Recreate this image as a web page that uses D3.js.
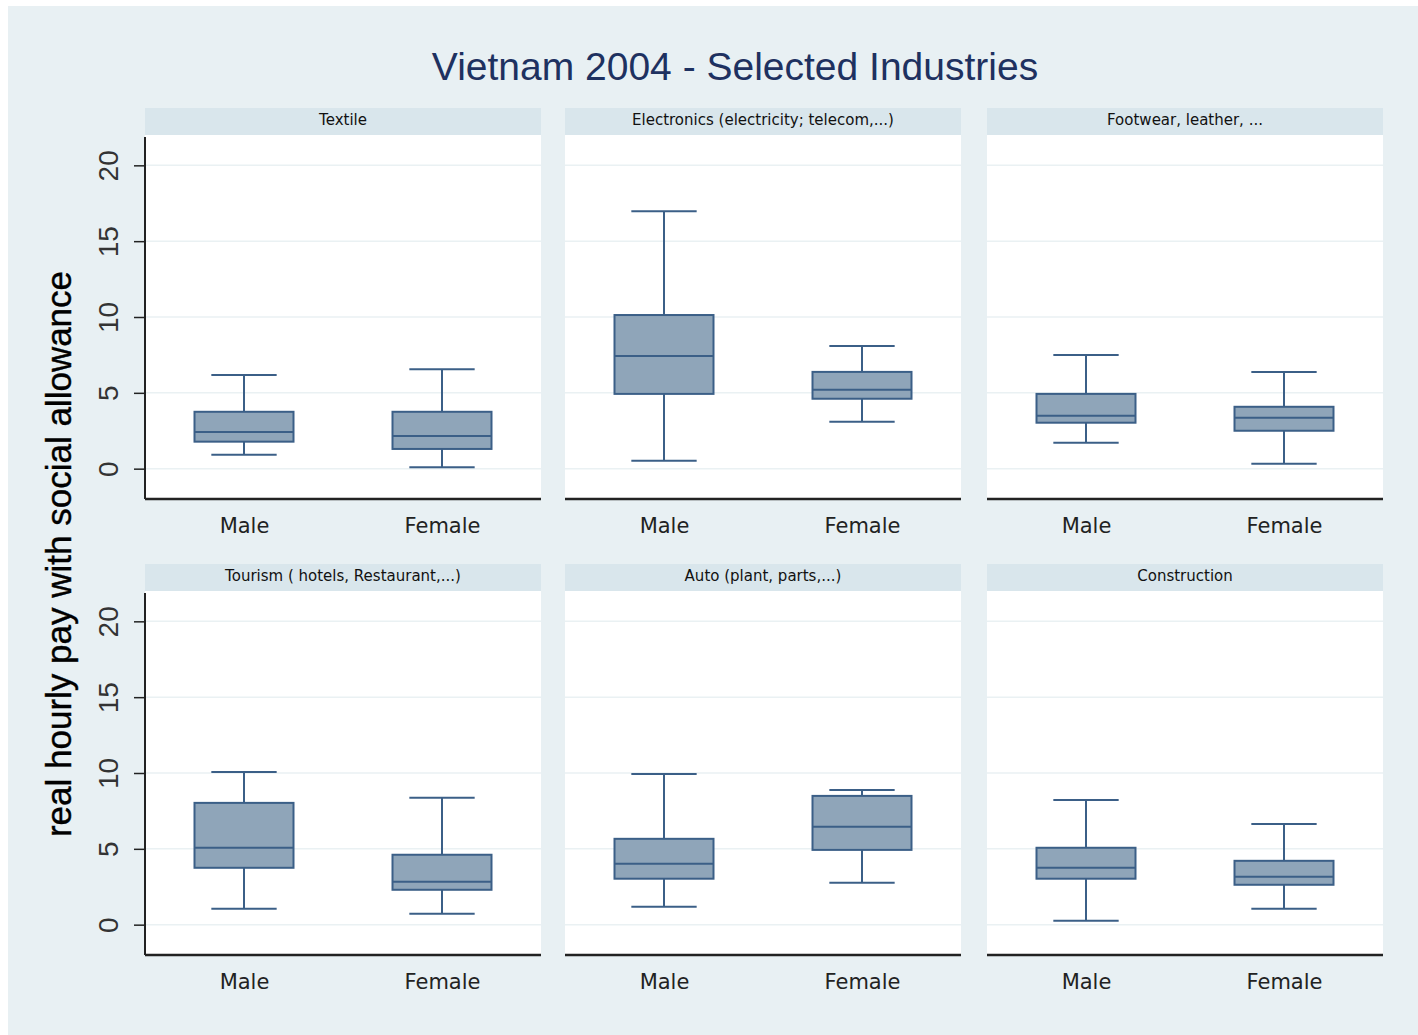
<!DOCTYPE html>
<html><head><meta charset="utf-8">
<script src="https://cdn.jsdelivr.net/npm/d3@7"></script>
<style>body{margin:0;background:#fff;}svg{display:block;}</style>
</head><body>
<svg id="c" width="1418" height="1035"></svg>
<script>
const title = "Vietnam 2004 - Selected Industries";
const yTitle = "real hourly pay with social allowance";
const industries = ["Textile","Electronics (electricity; telecom,...)","Footwear, leather, ...","Tourism ( hotels, Restaurant,...)","Auto (plant, parts,...)","Construction"];
const groups = ["Male","Female"];
const yTicks = [0,5,10,15,20];
// per industry: [Male, Female]
const lowerWhisker = [[0.92,0.09],[0.53,3.09],[1.71,0.33],[1.05,0.72],[1.18,2.76],[0.26,1.05]];
const q1Values     = [[1.78,1.30],[4.93,4.61],[3.03,2.50],[3.75,2.30],[3.03,4.93],[3.03,2.63]];
const medians      = [[2.41,2.15],[7.43,5.20],[3.49,3.36],[5.07,2.83],[4.01,6.45],[3.75,3.16]];
const q3Values     = [[3.75,3.75],[10.13,6.38],[4.93,4.08],[8.03,4.61],[5.66,8.49],[5.07,4.21]];
const upperWhisker = [[6.18,6.56],[16.97,8.09],[7.50,6.38],[10.07,8.36],[9.93,8.88],[8.22,6.64]];

const svg = d3.select("#c");
svg.append("rect").attr("x",8).attr("y",6).attr("width",1410).attr("height",1029).attr("fill","#e8f0f3");

svg.append("text").attr("x",735).attr("y",80).attr("text-anchor","middle")
  .attr("font-family","Liberation Sans, Arial, sans-serif").attr("font-size",39)
  .attr("fill","#1e3160").text(title);

svg.append("text").attr("transform","translate(71,554) rotate(-90)").attr("text-anchor","middle")
  .attr("font-family","Liberation Sans, Arial, sans-serif").attr("font-size",35)
  .attr("fill","#000").attr("stroke","#000").attr("stroke-width",0.4).text(yTitle);

const colX = [145,565,987];
const panelW = 396;
const rowTop = [108,564];
const headerH = 27;
const plotH = 364;

const fill = "#8fa5b9", stroke = "#3b5f87";

industries.forEach((name,i)=>{
  const col = i%3, row = Math.floor(i/3);
  const x0 = colX[col], yTop = rowTop[row];
  const pTop = yTop+headerH, pBot = pTop+plotH;
  const g = svg.append("g");
  g.append("rect").attr("x",x0).attr("y",yTop).attr("width",panelW).attr("height",headerH).attr("fill","#d9e6ec");
  g.append("text").attr("x",x0+panelW/2).attr("y",yTop+17).attr("text-anchor","middle")
    .attr("font-family","DejaVu Sans, sans-serif").attr("font-size",15).attr("fill","#111").text(name);
  g.append("rect").attr("x",x0).attr("y",pTop).attr("width",panelW).attr("height",plotH).attr("fill","#fff");
  const y = d3.scaleLinear().domain([-2,22]).range([pBot,pTop]);
  const xc = d3.scalePoint().domain(groups).range([x0,x0+panelW]).padding(0.5);
  g.selectAll("line.grid").data(yTicks).join("line")
    .attr("x1",x0).attr("x2",x0+panelW).attr("y1",d=>y(d)).attr("y2",d=>y(d))
    .attr("stroke","#eaf1f3").attr("stroke-width",1.5);
  const bw = panelW*0.25, cw = panelW*0.165;
  groups.forEach((gname,j)=>{
    const cx = xc(gname);
    const lw=lowerWhisker[i][j], q1=q1Values[i][j], md=medians[i][j], q3=q3Values[i][j], uw=upperWhisker[i][j];
    g.append("line").attr("x1",cx).attr("x2",cx).attr("y1",y(uw)).attr("y2",y(q3)).attr("stroke",stroke).attr("stroke-width",2);
    g.append("line").attr("x1",cx).attr("x2",cx).attr("y1",y(q1)).attr("y2",y(lw)).attr("stroke",stroke).attr("stroke-width",2);
    g.append("line").attr("x1",cx-cw/2).attr("x2",cx+cw/2).attr("y1",y(uw)).attr("y2",y(uw)).attr("stroke",stroke).attr("stroke-width",2);
    g.append("line").attr("x1",cx-cw/2).attr("x2",cx+cw/2).attr("y1",y(lw)).attr("y2",y(lw)).attr("stroke",stroke).attr("stroke-width",2);
    g.append("rect").attr("x",cx-bw/2).attr("y",y(q3)).attr("width",bw).attr("height",y(q1)-y(q3))
      .attr("fill",fill).attr("stroke",stroke).attr("stroke-width",2);
    g.append("line").attr("x1",cx-bw/2).attr("x2",cx+bw/2).attr("y1",y(md)).attr("y2",y(md)).attr("stroke",stroke).attr("stroke-width",2);
  });
  if (col === 0) {
    const ya = g.append("g").attr("transform",`translate(${x0},0)`)
      .call(d3.axisLeft(y).tickValues(yTicks).tickSize(11).tickSizeOuter(0).tickPadding(0).tickFormat(d3.format("d")));
    ya.select(".domain").attr("stroke","#222").attr("stroke-width",2).attr("d",`M0,${pTop+2}V${pBot}`);
    ya.selectAll(".tick line").attr("stroke","#222").attr("stroke-width",1.5);
    ya.selectAll(".tick text").attr("x",0).attr("y",0).attr("dy",null)
      .attr("text-anchor","middle").attr("font-family","Liberation Sans, Arial, sans-serif").attr("font-size",28)
      .attr("fill","#333")
      .attr("transform","translate(-37,0) rotate(-90)").attr("dominant-baseline","central");
  }
  const xa = g.append("g").attr("transform",`translate(0,${pBot})`)
    .call(d3.axisBottom(xc).tickSize(0).tickPadding(23));
  xa.select(".domain").attr("stroke","#222").attr("stroke-width",2.5).attr("d",`M${x0},0H${x0+panelW}`);
  xa.selectAll(".tick text").attr("font-family","DejaVu Sans, sans-serif").attr("font-size",21).attr("fill","#222").attr("dy","0.5em");
});
</script>
</body></html>
